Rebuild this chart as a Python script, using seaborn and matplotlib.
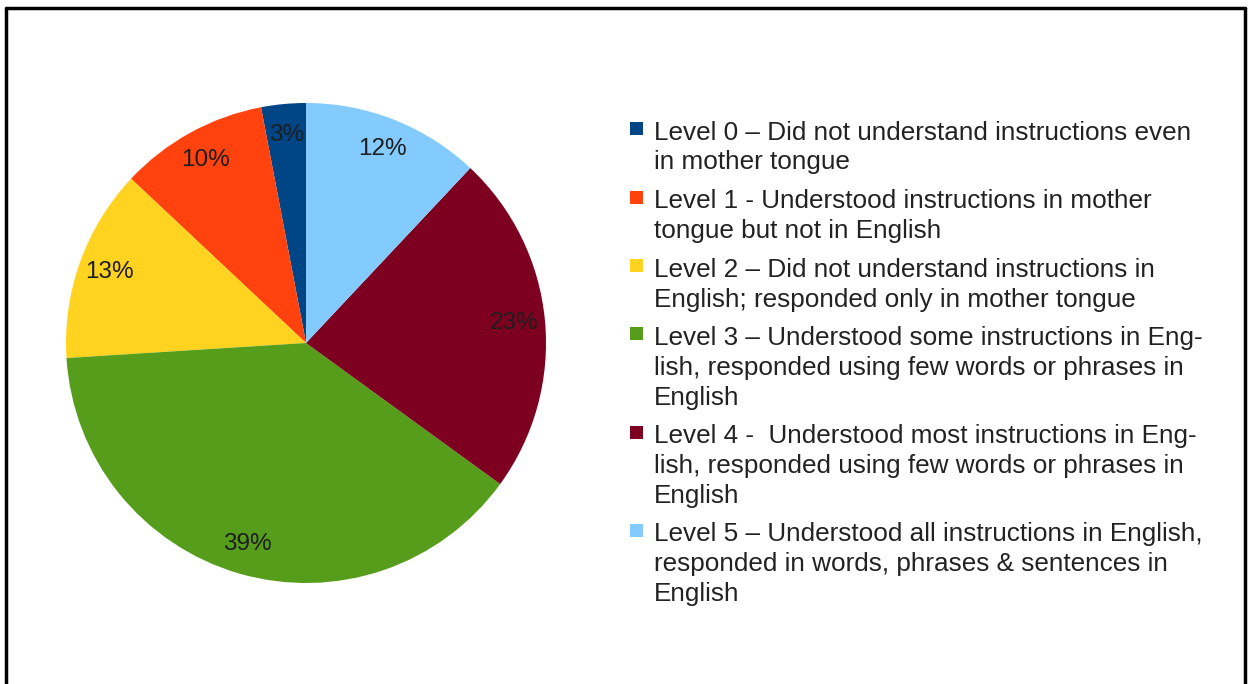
import matplotlib.pyplot as plt
import seaborn as sns
from matplotlib.lines import Line2D
from matplotlib.patches import Rectangle

# Data
levels = ['Level 0', 'Level 1', 'Level 2', 'Level 3', 'Level 4', 'Level 5']
shares = [3, 10, 13, 39, 23, 12]
legend_labels = [
    'Level 0 \u2013 Did not understand instructions even\nin mother tongue',
    'Level 1 - Understood instructions in mother\ntongue but not in English',
    'Level 2 \u2013 Did not understand instructions in\nEnglish; responded only in mother tongue',
    'Level 3 \u2013 Understood some instructions in Eng-\nlish, responded using few words or phrases in\nEnglish',
    'Level 4 -  Understood most instructions in Eng-\nlish, responded using few words or phrases in\nEnglish',
    'Level 5 \u2013 Understood all instructions in English,\nresponded in words, phrases & sentences in\nEnglish',
]
colors = ['#004586', '#ff420e', '#ffd320', '#579d1c', '#7e0021', '#83caff']

sns.set_theme(style='white')
plt.rcParams['font.family'] = ['Liberation Sans', 'DejaVu Sans']

W, H = 1249, 684
fig = plt.figure(figsize=(W / 100, H / 100), dpi=100)
ax = fig.add_axes([66 / W, (H - 583) / H, 480 / W, 480 / H])

wedges, texts, autotexts = ax.pie(
    shares, colors=colors, startangle=90, counterclock=True,
    autopct='%1.0f%%', pctdistance=0.87,
    wedgeprops={'linewidth': 0},
    textprops={'fontsize': 17.5, 'color': '#1e1e1e'},
)
ax.set_xlim(-1, 1)
ax.set_ylim(-1, 1)
ax.set_aspect('equal')

# Legend drawn by hand so that the colour box sits on the first line of each entry
line_h = 29.5
y_base = 140
for label, color in zip(legend_labels, colors):
    lines = label.split('\n')
    fig.patches.append(Rectangle((630 / W, 1 - (y_base - 5) / H), 13 / W, 13 / H,
                                 transform=fig.transFigure, facecolor=color,
                                 edgecolor='none'))
    for j, ln in enumerate(lines):
        fig.text(654 / W, 1 - (y_base + j * line_h) / H, ln, fontsize=18.8,
                 color='#222222', va='baseline', ha='left')
    y_base += len(lines) * line_h + 9.5

# frame around the figure (top, left, right edges)
lw = 2.5
fig.add_artist(Line2D([6 / W, 1245 / W], [1 - 8 / H, 1 - 8 / H], color='black', lw=lw, transform=fig.transFigure))
fig.add_artist(Line2D([6 / W, 6 / W], [0, 1 - 8 / H], color='black', lw=lw, transform=fig.transFigure))
fig.add_artist(Line2D([1245 / W, 1245 / W], [0, 1 - 8 / H], color='black', lw=lw, transform=fig.transFigure))

fig.savefig('out.png', dpi=100, facecolor='white')
